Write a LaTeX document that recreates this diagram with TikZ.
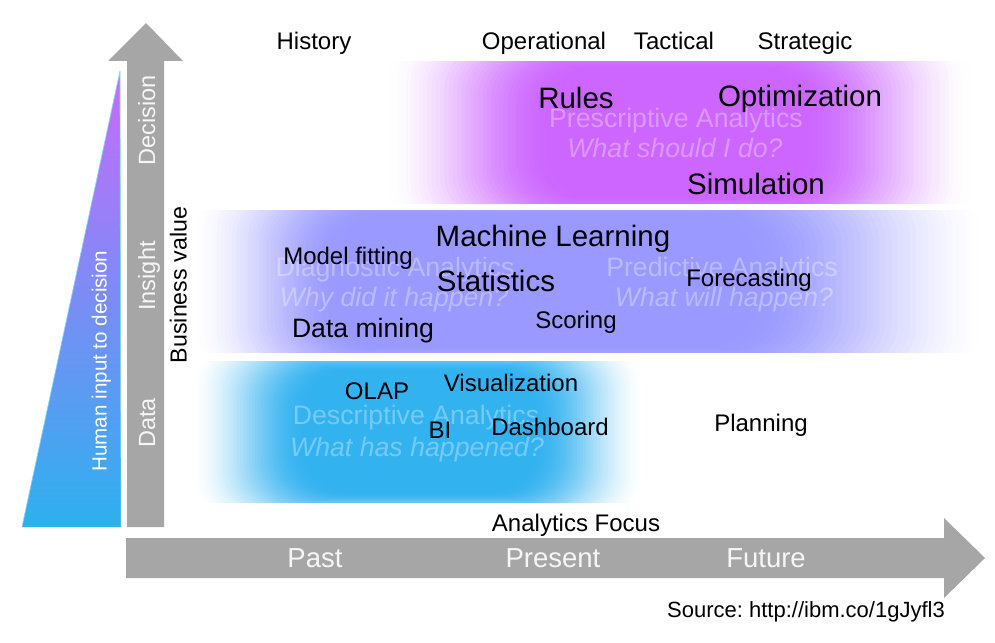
\documentclass[tikz,border=0pt]{standalone}
\usepackage{fontspec}
\setmainfont{Liberation Sans}
\frenchspacing
\definecolor{bandP}{RGB}{204,102,255}
\definecolor{bandV}{RGB}{153,153,255}
\definecolor{bandC}{RGB}{51,178,240}
\definecolor{triP}{RGB}{200,106,252}
\definecolor{triM}{RGB}{140,158,248}
\definecolor{triC}{RGB}{45,176,238}
\definecolor{triEdge}{RGB}{130,215,250}
\definecolor{arrowgray}{RGB}{166,166,166}
\definecolor{axtext}{RGB}{246,246,246}
\newcommand\softband[9]{%
  \begin{scope}
    \clip (#2,#3) rectangle (#4,#5);
    \foreach \k in {1,...,40}{%
      \pgfmathsetmacro\sbt{(\k-1)/39}%
      \pgfmathsetmacro\sba{(\k-1)/40}%
      \pgfmathsetmacro\sbb{\k/40}%
      \pgfmathsetmacro\sbTa{3*\sba*\sba-2*\sba*\sba*\sba}%
      \pgfmathsetmacro\sbTb{3*\sbb*\sbb-2*\sbb*\sbb*\sbb}%
      \pgfmathsetmacro\sbop{\k==40 ? 1 : 1-(1-\sbTb)/(1-\sbTa)}%
      \fill[#1, fill opacity=\sbop, rounded corners=45pt]
        ({#2+#6*\sbt},{#3-#8+(#8+#9)*\sbt}) rectangle ({#4-#7*\sbt},{#5+#8-(#8+#9)*\sbt});
    }
  \end{scope}}
\tikzset{
  txt/.style={anchor=base, inner sep=0pt, font=\fontsize{24}{28}\selectfont},
  bigtxt/.style={anchor=base, inner sep=0pt, font=\fontsize{29.5}{34}\selectfont},
  dmtxt/.style={anchor=base, inner sep=0pt, font=\fontsize{26.6}{31}\selectfont},
  faint/.style={anchor=base, inner sep=0pt, font=\fontsize{26.7}{31}\selectfont, text=white, text opacity=0.32},
  faintit/.style={anchor=base, inner sep=0pt, font=\fontsize{26.7}{31}\selectfont\itshape, text=white, text opacity=0.32},
  axlab/.style={anchor=base, inner sep=0pt, font=\fontsize{27.5}{32}\selectfont, text=axtext},
  srctxt/.style={anchor=base, inner sep=0pt, font=\fontsize{22}{26}\selectfont},
  vlab/.style={anchor=base, inner sep=0pt, rotate=90, font=\fontsize{23.5}{28}\selectfont, text=axtext},
  bvlab/.style={anchor=base, inner sep=0pt, rotate=90, font=\fontsize{23.2}{28}\selectfont},
  hilab/.style={anchor=base, inner sep=0pt, rotate=90, font=\fontsize{20.6}{24}\selectfont, text=white},
}
\begin{document}
\begin{tikzpicture}[x=1pt, y=-1pt]
\useasboundingbox (0,0) rectangle (995,642);
% soft coloured bands
\softband{bandP}{385}{62}{975}{203}{165}{170}{30}{6}
\softband{bandV}{190}{210}{990}{352}{150}{240}{30}{6}
\softband{bandC}{190}{361}{645}{502}{115}{110}{22}{10}
% triangle
\shade[top color=triP, middle color=triM, bottom color=triC] (120,71) -- (121,527) -- (22,527) -- cycle;
\draw[triEdge, line width=0.7pt, line join=round] (22,527) -- (120,71) -- (121,527);
% vertical arrow
\fill[arrowgray] (127,527) -- (127,61) -- (108,61) -- (146,23) -- (183,61) -- (164,61) -- (164,527) -- cycle;
% horizontal arrow
\fill[arrowgray] (126,538) -- (944,538) -- (944,518) -- (985,558) -- (944,598) -- (944,578) -- (126,578) -- cycle;
% top labels
\node[txt] (hist) at (314,49.6) {History};
\node[txt] (oper) at (544,49.6) {Operational};
\node[txt] (tact) at (674,49.6) {Tactical};
\node[txt] (strat) at (805,49.6) {Strategic};
% prescriptive band
\node[faint] (presc) at (676,127.6) {Prescriptive Analytics};
\node[faintit] (presq) at (675,157.6) {What should I do?};
\node[bigtxt] (rules) at (576,108.6) {Rules};
\node[bigtxt] (optim) at (800,106.6) {Optimization};
\node[bigtxt] (simul) at (756,194.6) {Simulation};
% diagnostic / predictive band
\node[faint] (diag) at (395,276.6) {Diagnostic Analytics};
\node[faintit] (diagq) at (394,306.6) {Why did it happen?};
\node[faint] (pred) at (722,276.6) {Predictive Analytics};
\node[faintit] (predq) at (724,306.6) {What will happen?};
\node[bigtxt] (ml) at (553,246.6) {Machine Learning};
\node[txt] (mfit) at (348,264.6) {Model fitting};
\node[bigtxt] (stat) at (496,291.6) {Statistics};
\node[txt] (fore) at (749,286.6) {Forecasting};
\node[dmtxt] (dmin) at (363,337.5) {Data mining};
\node[txt] (scor) at (576,328.6) {Scoring};
% descriptive band
\node[faint] (desc) at (416,424.6) {Descriptive Analytics};
\node[faintit] (descq) at (417,456.6) {What has happened?};
\node[txt] (olap) at (377,399.6) {OLAP};
\node[txt] (vis) at (511,391.6) {Visualization};
\node[txt] (bi) at (440,438.6) {BI};
\node[txt] (dash) at (550,435.6) {Dashboard};
\node[txt] (plan) at (761,431.6) {Planning};
% horizontal axis
\node[txt] (focus) at (576,531.6) {Analytics Focus};
\node[axlab] (past) at (315,567.8) {Past};
\node[axlab] (pres) at (553,567.8) {Present};
\node[axlab] (fut) at (766,567.8) {Future};
\node[srctxt] (src) at (806,617.9) {Source: http://ibm.co/1gJyfl3};
% vertical labels
\node[vlab] (dec) at (155,120) {Decision};
\node[vlab] (ins) at (155,276) {Insight};
\node[vlab] (dat) at (155,423) {Data};
\node[bvlab] (bval) at (186.7,285) {Business value};
\node[hilab] (human) at (106.7,361) {Human input to decision};
\end{tikzpicture}
\end{document}
